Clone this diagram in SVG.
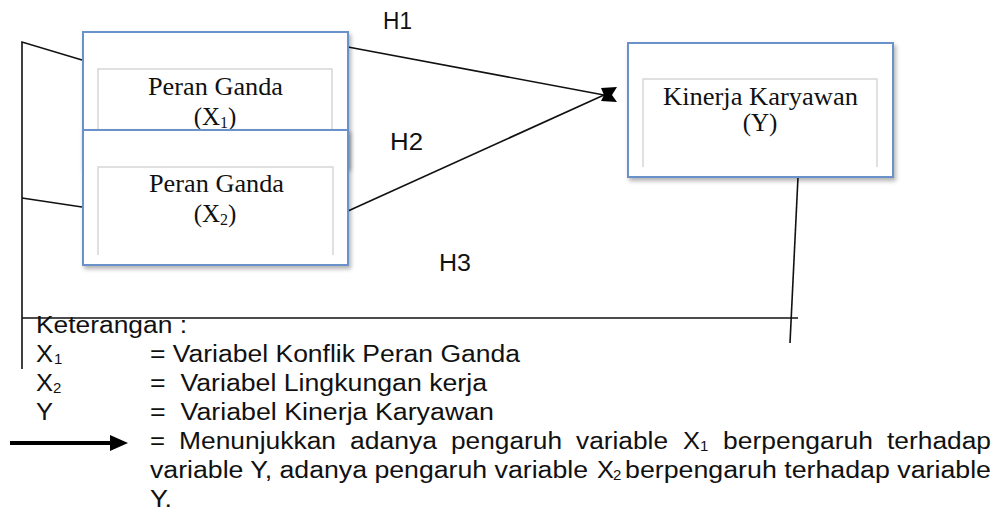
<svg xmlns="http://www.w3.org/2000/svg" width="997" height="517" viewBox="0 0 997 517">
<style>
.outer{fill:#fff;stroke:#6792c9;stroke-width:2}
.inner{fill:none;stroke:#d6d6d6;stroke-width:1.5}
.serif{font-family:"Liberation Serif","Times New Roman",serif;font-size:25px;fill:#111}
.sans{font-family:"Liberation Sans",Arial,Helvetica,sans-serif;font-size:23px;fill:#111}
.sub{font-family:"Liberation Sans",Arial,Helvetica,sans-serif;font-size:15px;fill:#111}
.ln{fill:none;stroke:#111;stroke-width:1.6}
</style>
<defs>
<filter id="sh" x="-10%" y="-10%" width="125%" height="130%">
<feDropShadow dx="2" dy="3" stdDeviation="2" flood-color="#000" flood-opacity="0.3"/>
</filter>
</defs>
<rect width="997" height="517" fill="#fff"/>
<g id="connectors">
<polyline class="ln" points="82,60 22,42 22,369"/>
<line class="ln" x1="22" y1="198" x2="82" y2="207"/>
<line class="ln" x1="22" y1="318" x2="798" y2="318"/>
<line class="ln" x1="798" y1="177" x2="790" y2="343"/>
<line class="ln" x1="348" y1="47" x2="604" y2="95"/>
<line class="ln" x1="348" y1="211" x2="604" y2="95"/>
<polygon points="601,88 617,87 612,95 617,102 601,101 604,95" fill="#000"/>
<text class="sans" x="383" y="29" textLength="29" lengthAdjust="spacingAndGlyphs">H1</text>
<text class="sans" x="390" y="150" textLength="33" lengthAdjust="spacingAndGlyphs">H2</text>
<text class="sans" x="439" y="271" textLength="32" lengthAdjust="spacingAndGlyphs">H3</text>
</g>
<g id="node-x1">
<rect class="outer" x="83" y="32" width="265" height="135" filter="url(#sh)"/>
<path class="inner" d="M98,157 V69 H332 V157"/>
<text class="serif" x="148" y="95" textLength="135" lengthAdjust="spacingAndGlyphs">Peran Ganda</text>
<text class="serif" x="215" y="125" text-anchor="middle">(X<tspan font-size="16" dy="3">1</tspan><tspan dy="-3">)</tspan></text>
</g>
<g id="node-x2">
<rect class="outer" x="83" y="130" width="265" height="135" filter="url(#sh)"/>
<path class="inner" d="M98,255 V167 H333 V255"/>
<text class="serif" x="149" y="192" textLength="135" lengthAdjust="spacingAndGlyphs">Peran Ganda</text>
<text class="serif" x="215" y="222" text-anchor="middle">(X<tspan font-size="16" dy="3">2</tspan><tspan dy="-3">)</tspan></text>
</g>
<g id="node-y">
<rect class="outer" x="628" y="43" width="265" height="134" filter="url(#sh)"/>
<path class="inner" d="M643,167 V79 H877 V167"/>
<text class="serif" x="663" y="105" textLength="195" lengthAdjust="spacingAndGlyphs">Kinerja Karyawan</text>
<text class="serif" x="760" y="131" text-anchor="middle">(Y)</text>
</g>
<g id="legend">
<text class="sans" x="36" y="333" textLength="151" lengthAdjust="spacingAndGlyphs">Keterangan :</text>
<text class="sans" x="36" y="362" textLength="17" lengthAdjust="spacingAndGlyphs">X</text>
<text class="sub" x="54" y="364">1</text>
<text class="sans" x="150" y="362" textLength="370" lengthAdjust="spacingAndGlyphs">= Variabel Konflik Peran Ganda</text>
<text class="sans" x="36" y="391" textLength="17" lengthAdjust="spacingAndGlyphs">X</text>
<text class="sub" x="53" y="393">2</text>
<text class="sans" x="150" y="391" textLength="337" lengthAdjust="spacingAndGlyphs" xml:space="preserve">=  Variabel Lingkungan kerja</text>
<text class="sans" x="36" y="420" textLength="17" lengthAdjust="spacingAndGlyphs">Y</text>
<text class="sans" x="150" y="420" textLength="344" lengthAdjust="spacingAndGlyphs" xml:space="preserve">=  Variabel Kinerja Karyawan</text>
<line x1="10" y1="443" x2="114" y2="443" stroke="#000" stroke-width="4"/>
<polygon points="110,435 128,443 110,451" fill="#000"/>
<text class="sans" x="150" y="449" textLength="15" lengthAdjust="spacingAndGlyphs">=</text>
<text class="sans" x="179" y="449" textLength="157" lengthAdjust="spacingAndGlyphs">Menunjukkan</text>
<text class="sans" x="350" y="449" textLength="87" lengthAdjust="spacingAndGlyphs">adanya</text>
<text class="sans" x="451" y="449" textLength="111" lengthAdjust="spacingAndGlyphs">pengaruh</text>
<text class="sans" x="576" y="449" textLength="92" lengthAdjust="spacingAndGlyphs">variable</text>
<text class="sans" x="683" y="449" textLength="17" lengthAdjust="spacingAndGlyphs">X</text>
<text class="sub" x="700" y="451">1</text>
<text class="sans" x="723" y="449" textLength="150" lengthAdjust="spacingAndGlyphs">berpengaruh</text>
<text class="sans" x="887" y="449" textLength="104" lengthAdjust="spacingAndGlyphs">terhadap</text>
<text class="sans" x="150" y="478" textLength="438" lengthAdjust="spacingAndGlyphs">variable Y, adanya pengaruh variable</text>
<text class="sans" x="597" y="478" textLength="17" lengthAdjust="spacingAndGlyphs">X</text>
<text class="sub" x="613" y="480">2</text>
<text class="sans" x="625" y="478" textLength="366" lengthAdjust="spacingAndGlyphs">berpengaruh terhadap variable</text>
<text class="sans" x="150" y="507" textLength="22" lengthAdjust="spacingAndGlyphs">Y.</text>
</g>
</svg>
